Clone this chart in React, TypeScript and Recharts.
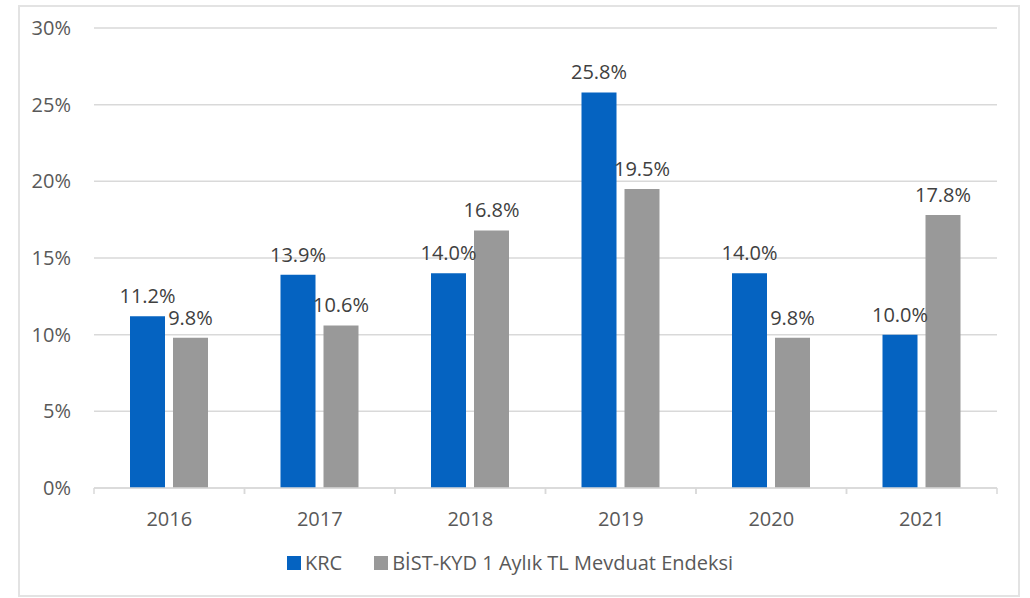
import React from 'react';
import { BarChart, Bar, XAxis, YAxis, CartesianGrid, Legend, LabelList } from 'recharts';

const years = ['2016', '2017', '2018', '2019', '2020', '2021'];
const krc = [11.2, 13.9, 14.0, 25.8, 14.0, 10.0];
const bist = [9.8, 10.6, 16.8, 19.5, 9.8, 17.8];
const yTicks = [0, 5, 10, 15, 20, 25, 30];
const seriesNames = ['KRC', 'BİST-KYD 1 Aylık TL Mevduat Endeksi'];

const data = years.map((y, i) => ({ year: y, krc: krc[i], bist: bist[i] }));

const BLUE = '#0563C1';
const GRAY = '#999999';
const FONT = '"Open Sans", sans-serif';

const XTick = (props: any) => {
  const { x, y, payload } = props;
  const half = payload && payload.offset ? payload.offset : 75.25;
  return (
    <g>
      <line x1={x - half} y1={y} x2={x - half} y2={y + 6} stroke="#d9d9d9" strokeWidth={1.5} />
      <line x1={x + half} y1={y} x2={x + half} y2={y + 6} stroke="#d9d9d9" strokeWidth={1.5} />
      <text x={x} y={y + 38} textAnchor="middle" fill="#595959" fontSize={20} fontFamily={FONT}>
        {payload.value}
      </text>
    </g>
  );
};

const LegendContent = () => (
  <div style={{ display: 'flex', alignItems: 'center', fontFamily: FONT, fontSize: 20, color: '#595959' }}>
    <span style={{ display: 'inline-block', width: 14, height: 14, background: BLUE, marginRight: 4 }} />
    <span style={{ marginRight: 32 }}>{seriesNames[0]}</span>
    <span style={{ display: 'inline-block', width: 14, height: 14, background: GRAY, marginRight: 4 }} />
    <span>{seriesNames[1]}</span>
  </div>
);

export default function App() {
  return (
    <div style={{ position: 'absolute', left: 0, top: 0, width: 1030, height: 598, background: '#fff' }}>
      <div
        style={{
          position: 'absolute',
          left: 18,
          top: 5,
          width: 998,
          height: 588,
          border: '2px solid #e3e3e3',
        }}
      />
      <div style={{ position: 'absolute', left: 0, top: 0 }}>
        <BarChart
          width={1030}
          height={598}
          data={data}
          margin={{ top: 28, right: 33, left: 0, bottom: 80 }}
          barSize={35}
          barGap={8}
        >
          <CartesianGrid vertical={false} stroke="#d9d9d9" strokeWidth={1.5} />
          <XAxis
            dataKey="year"
            axisLine={{ stroke: '#d9d9d9', strokeWidth: 1.5 }}
            tickLine={false}
            tickSize={0}
            tickMargin={0}
            tick={<XTick />}
            interval={0}
            height={30}
          />
          <YAxis
            width={94}
            domain={[0, 30]}
            ticks={yTicks}
            interval={0}
            axisLine={false}
            tickLine={false}
            tickSize={0}
            tickMargin={23}
            tickFormatter={(v: number) => `${v}%`}
            tick={{ fill: '#595959', fontSize: 20, fontFamily: FONT }}
          />
          <Legend
            verticalAlign="bottom"
            content={<LegendContent />}
            wrapperStyle={{ position: 'absolute', left: 287, top: 549, width: 600, height: 0, overflow: 'visible' }}
          />
          <Bar dataKey="krc" fill={BLUE} isAnimationActive={false}>
            <LabelList
              dataKey="krc"
              position="top"
              offset={13}
              formatter={(v: number) => `${v.toFixed(1)}%`}
              fill="#404040"
              fontSize={20}
              fontFamily={FONT}
            />
          </Bar>
          <Bar dataKey="bist" fill={GRAY} isAnimationActive={false}>
            <LabelList
              dataKey="bist"
              position="top"
              offset={13}
              formatter={(v: number) => `${v.toFixed(1)}%`}
              fill="#404040"
              fontSize={20}
              fontFamily={FONT}
            />
          </Bar>
        </BarChart>
      </div>
    </div>
  );
}
